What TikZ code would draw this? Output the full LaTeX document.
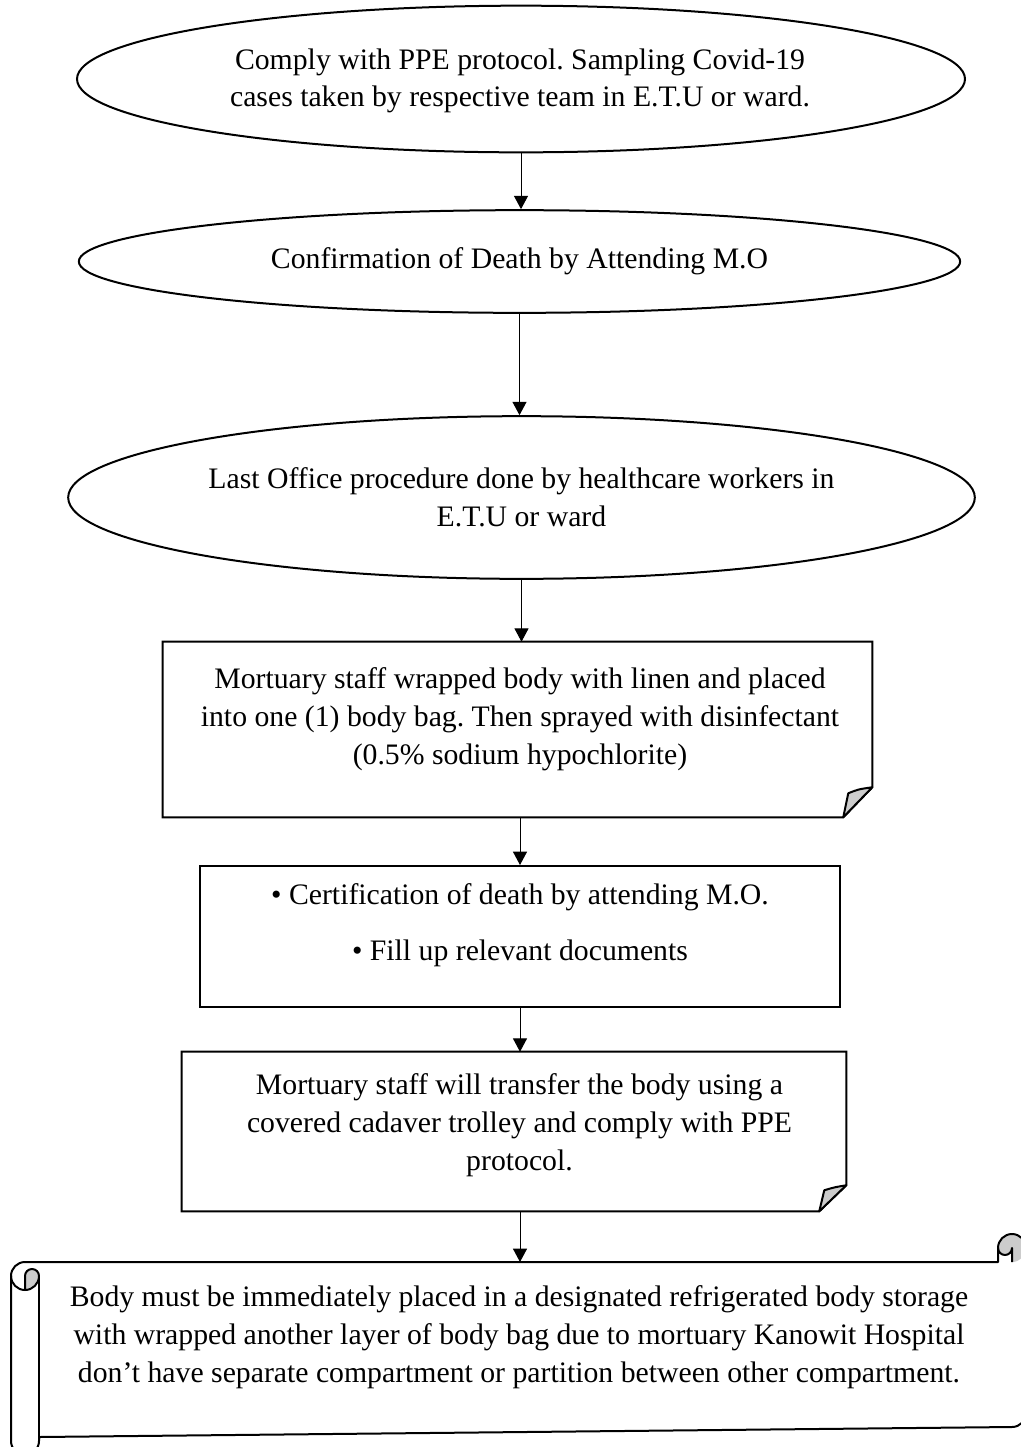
\documentclass[tikz,border=0pt]{standalone}
\usepackage{fontspec}
\setmainfont{Liberation Serif}
\frenchspacing
\usetikzlibrary{shapes.geometric,arrows.meta,calc}
\tikzset{
  txt/.style={align=center, inner sep=0pt, font=\fontsize{22.3pt}{28.5pt}\selectfont},
  ell/.style={ellipse, draw, line width=1.5pt, inner sep=0pt, txt},
  shp/.style={rectangle, draw=none, inner sep=0pt},
  plainbox/.style={rectangle, draw, line width=1.5pt, inner sep=0pt},
  outline/.style={line width=1.5pt, line join=miter},
  foldfill/.style={fill=black!20, draw, line width=1.5pt, line join=round},
  scrollline/.style={line width=1.5pt, line join=round},
  capfill/.style={fill=black!20},
  arr/.style={-{Triangle[length=10pt,width=10.5pt]}, line width=0.75pt},
}
\begin{document}
\begin{tikzpicture}[x=0.75pt,y=-0.75pt]
\useasboundingbox[fill=white] (0,0) rectangle (1021,1447);

% ellipses
\node[ell, minimum width=666pt, minimum height=110pt] (e1) at (521,79) {};
\node[txt, font=\fontsize{22.3pt}{27.75pt}\selectfont] (t1) at (520,81)
  {Comply with PPE protocol. Sampling Covid-19\\cases taken by respective team in E.T.U or ward.};
\node[ell, minimum width=661pt, minimum height=77pt] (e2) at (519.5,261.5)
  {Confirmation of Death by Attending M.O};
\node[ell, minimum width=680pt, minimum height=122pt] (e3) at (521.5,497.5)
  {Last Office procedure done by healthcare workers in\\E.T.U or ward};

% box 4 (folded corner)
\node[shp, minimum width=531.75pt, minimum height=131.25pt] (b4) at (517.5,729.5) {};
\draw[outline] (b4.north west) -- (b4.north east) -- ($(b4.south east)+(0,-30)$)
  -- ($(b4.south east)+(-29,0)$) -- (b4.south west) -- cycle;
\draw[foldfill] ($(b4.south east)+(-29,0)$) -- ($(b4.south east)+(-24,-24)$)
  .. controls ($(b4.south east)+(-14,-28)$) .. ($(b4.south east)+(0,-30)$) -- cycle;
\node[txt] (t4) at (520,719)
  {Mortuary staff wrapped body with linen and placed\\into one (1) body bag. Then sprayed with disinfectant\\(0.5\% sodium hypochlorite)};

% box 5
\node[plainbox, minimum width=480pt, minimum height=105.75pt] (b5) at (520,936.5) {};
\node[txt] (t5) at (520,925)
  {• Certification of death by attending M.O.\\[13.5pt]• Fill up relevant documents};

% box 6 (folded corner)
\node[shp, minimum width=498pt, minimum height=119.25pt] (b6) at (514,1131.5) {};
\draw[outline] (b6.north west) -- (b6.north east) -- ($(b6.south east)+(0,-26)$)
  -- ($(b6.south east)+(-27,0)$) -- (b6.south west) -- cycle;
\draw[foldfill] ($(b6.south east)+(-27,0)$) -- ($(b6.south east)+(-22,-21)$)
  .. controls ($(b6.south east)+(-12,-24)$) .. ($(b6.south east)+(0,-26)$) -- cycle;
\node[txt] (t6) at (519.5,1125)
  {Mortuary staff will transfer the body using a\\covered cadaver trolley and comply with PPE\\protocol.};

% scroll
\fill[capfill] (1012,1262) arc[start angle=90, end angle=-180, radius=14]
  arc[start angle=180, end angle=0, radius=7] -- cycle;
\fill[capfill] (25,1290) arc[start angle=90, end angle=0, radius=14]
  arc[start angle=0, end angle=-180, radius=7] -- cycle;
\draw[scrollline] (11,1276) arc[start angle=180, end angle=270, radius=14]
  -- (998,1262) -- (998,1248) arc[start angle=180, end angle=360, radius=14]
  -- (1026,1413) arc[start angle=0, end angle=90, radius=14]
  -- (39,1437) -- (39,1441) arc[start angle=0, end angle=180, radius=14] -- cycle;
\draw[scrollline] (1012,1262) -- (1012,1248) arc[start angle=0, end angle=180, radius=7];
\draw[scrollline] (25,1290) -- (25,1276) arc[start angle=180, end angle=360, radius=7]
  arc[start angle=0, end angle=180, radius=14];
\draw[scrollline] (39,1276) -- (39,1437);
\coordinate (scrolltop) at (520,1262);
\node[txt] (t7) at (519,1337)
  {Body must be immediately placed in a designated refrigerated body storage\\with wrapped another layer of body bag due to mortuary Kanowit Hospital\\don’t have separate compartment or partition between other compartment.};

% arrows
\draw[arr] (e1.south) -- (e1.south |- e2.north);
\draw[arr] (e2.south) -- (e2.south |- e3.north);
\draw[arr] (e3.south) -- (e3.south |- b4.north);
\draw[arr] (b5.north |- b4.south) -- (b5.north);
\draw[arr] (b5.south) -- (b5.south |- b6.north);
\draw[arr] (scrolltop |- b6.south) -- (scrolltop);
\end{tikzpicture}
\end{document}
